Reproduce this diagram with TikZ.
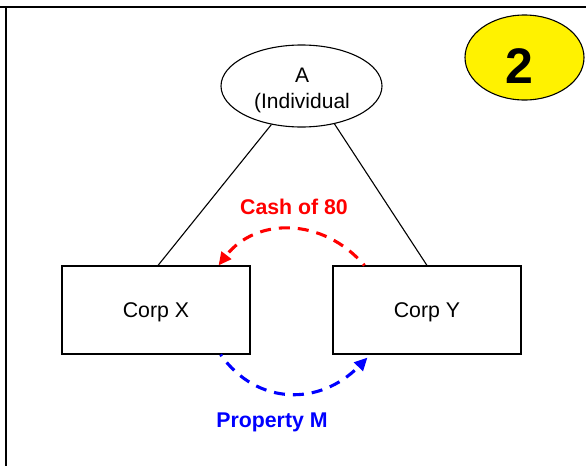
\documentclass[tikz,border=0pt]{standalone}
\usepackage{fontspec}
\setmainfont{Liberation Sans}
\usetikzlibrary{arrows.meta,calc,shapes.geometric}
\begin{document}
\begin{tikzpicture}[x=1pt,y=-1pt,
  box/.style={draw,line width=1.1pt,rectangle,minimum width=188pt,minimum height=88pt,inner sep=0pt,text depth=0pt,font=\fontsize{21.3}{26}\selectfont},
  txt/.style={font=\fontsize{21}{26}\selectfont,inner sep=0pt,anchor=base},
  bl/.style={font=\bfseries\fontsize{21.3}{26}\selectfont,inner sep=0pt,anchor=base},
  link/.style={line width=1.1pt},
  flow/.style={line width=3.1pt,dash pattern=on 11pt off 8pt,dash phase=9pt,-{Triangle[length=13pt,width=12pt]}},
  ]
\useasboundingbox (0,0) rectangle (586,466);
\draw[line width=2pt] (0,7.3) -- (586,7.3);
\draw[line width=2pt] (5.8,7.3) -- (5.8,466);
% badge
\node[ellipse,draw,fill=yellow,line width=1.1pt,minimum width=119pt,minimum height=85pt,inner sep=0pt] (badge) at (524.5,57.5) {};
\node[font=\bfseries\fontsize{50}{60}\selectfont,inner sep=0pt] (num) at (519,66.5) {2};
% individual
\node[ellipse,draw,line width=1.1pt,minimum width=161pt,minimum height=82pt,inner sep=0pt] (a) at (301.5,86) {};
\node[txt] (at1) at (302,82) {A};
\node[txt] (at2) at (302,108) {(Individual};
% corps
\node[box] (cx) at (156,310) {Corp X};
\node[box] (cy) at (427,310) {Corp Y};
\draw[link] (a.-128) -- ($(cx.north)+(2,0)$);
\draw[link] (a.-49) -- (cy.north);
% flows
\coordinate (rs) at ($(cy.north west)+(32,0)$);
\coordinate (re) at ($(cx.north east)+(-32,0)$);
\draw[red,flow] (rs) .. controls (323,217) and (256,217) .. (re);
\coordinate (bs) at ($(cx.south east)+(-30,0)$);
\coordinate (be) at ($(cy.south west)+(35,3)$);
\draw[blue,flow] (bs) .. controls (257,406) and (320,406) .. (be);
\node[bl,red] (cash) at (294,214) {Cash of 80};
\node[bl,blue] (prop) at (272,427) {Property M};
\end{tikzpicture}
\end{document}
